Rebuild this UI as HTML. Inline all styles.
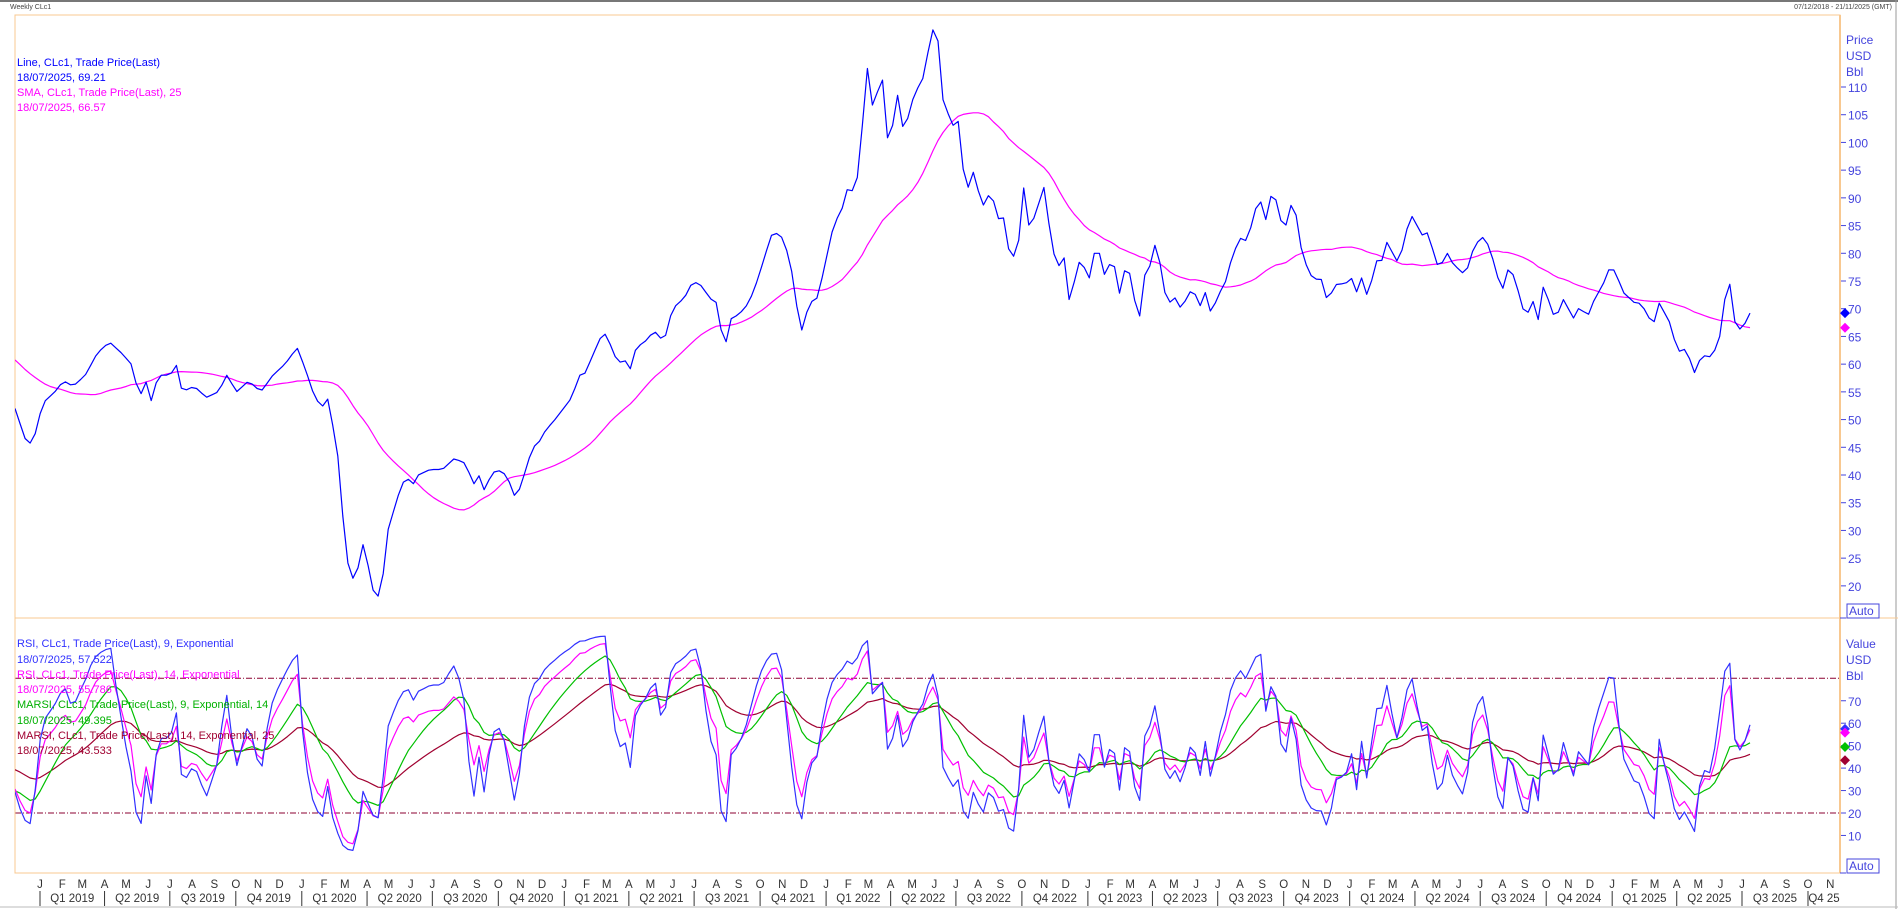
<!DOCTYPE html>
<html><head><meta charset="utf-8"><style>
html,body{margin:0;padding:0;background:#fff;width:1898px;height:909px;overflow:hidden}
svg{display:block;font-family:"Liberation Sans",sans-serif}
</style></head><body>
<svg id="s" width="1898" height="909" xmlns="http://www.w3.org/2000/svg"></svg>
<script>
const S=document.getElementById('s');let h='';
const L=15,R=1840,T=15,MID=618,B=873;
h+=`<rect x="0" y="0" width="1898" height="909" fill="#fff"/>`;
h+=`<line x1="0" y1="1" x2="1898" y2="1" stroke="#777" stroke-width="2"/>`;
h+=`<line x1="1896" y1="0" x2="1896" y2="909" stroke="#999"/>`;
h+=`<line x1="0" y1="907" x2="1898" y2="907" stroke="#bbb"/>`;
h+=`<text x="10" y="9" font-size="7" fill="#444">Weekly CLc1</text>`;
h+=`<text x="1892" y="9" font-size="7" fill="#444" text-anchor="end">07/12/2018 - 21/11/2025 (GMT)</text>`;
const d0=Date.UTC(2019,0,1),ppd=1702/2373;
function xd(y,m,d){return 40+(Date.UTC(y,m,d||1)-d0)/864e5*ppd;}
const py=p=>281-(p-75)*5.543, ry=v=>813-(v-20)*2.245;
let g='';
const ML='JFMAMJJASOND';
for(let y=2019;y<=2025;y++)for(let m=0;m<12;m++){const x=xd(y,m);if(x>R)continue;
g+=`<line x1="${x}" y1="${T}" x2="${x}" y2="${B}" stroke="#c4c4c4" stroke-dasharray="4,3"/>`;
h+=`<text x="${x}" y="888" font-size="11.5" fill="#333" text-anchor="middle">${ML[m]}</text>`;
if(m%3==0){h+=`<line x1="${x}" y1="891" x2="${x}" y2="906" stroke="#333"/>`;
const q=m/3+1;const lab=(y==2025&&q==4)?'Q4 25':'Q'+q+' '+y;
const nx=(y==2025&&q==4)?R:xd(q==4?y+1:y,(m+3)%12);
h+=`<text x="${(x+nx)/2}" y="902" font-size="11.5" fill="#333" text-anchor="middle">${lab}</text>`;}}
for(let p=20;p<=120;p+=5){g+=`<line x1="${L}" y1="${py(p)}" x2="${R}" y2="${py(p)}" stroke="#c4c4c4" stroke-dasharray="4,3"/>`;
if(p<=110)h+=`<line x1="${R}" y1="${py(p)}" x2="${R+6}" y2="${py(p)}" stroke="#4444dd"/><text x="${R+8}" y="${py(p)+5}" font-size="12" fill="#4444dd">${p}</text>`;}
for(let v=0;v<=100;v+=10){const y=ry(v);if(y<MID||y>B)continue;g+=`<line x1="${L}" y1="${y}" x2="${R}" y2="${y}" stroke="#c4c4c4" stroke-dasharray="4,3"/>`;
if(v>=10&&v<=70)h+=`<line x1="${R}" y1="${y}" x2="${R+6}" y2="${y}" stroke="#4444dd"/><text x="${R+8}" y="${y+5}" font-size="12" fill="#4444dd">${v}</text>`;}
h=g+h;
[20,80].forEach(v=>{h+=`<line x1="${L}" y1="${ry(v)}" x2="${R}" y2="${ry(v)}" stroke="#8b0030" stroke-dasharray="6,2,1,2"/>`;});
h+=`<rect x="${L}" y="${T}" width="${R-L}" height="${B-T}" fill="none" stroke="#f8c890"/><line x1="${L}" y1="${MID}" x2="1898" y2="${MID}" stroke="#f8c890"/>`;
h+=`<line x1="${R}" y1="${T}" x2="${R}" y2="${B}" stroke="#f8c890" stroke-width="2"/>`;
['Price','USD','Bbl'].forEach((t,i)=>h+=`<text x="${R+6}" y="${44+i*16}" font-size="12" fill="#4444dd">${t}</text>`);
['Value','USD','Bbl'].forEach((t,i)=>h+=`<text x="${R+6}" y="${648+i*16}" font-size="12" fill="#4444dd">${t}</text>`);
[[604,611],[859,866]].forEach(a=>{h+=`<rect x="${R+7}" y="${a[0]}" width="32" height="14" fill="none" stroke="#4444dd"/><text x="${R+9}" y="${a[1]+4}" font-size="12" fill="#4444dd">Auto</text><line x1="${R}" y1="${a[0]+14}" x2="${R+6}" y2="${a[0]+14}" stroke="#4444dd"/>`;});
const D=[12,52,22,45.5,27,46,35,53,45,55,52,57,60,56,70,58,80,62,90,64,100,62,108,60,115,54,120,57,125,53,130,58,140,58,146,60,150,55,160,56,170,54,180,55,187,58,195,55,205,57,215,55,225,58,235,60,245,63,252,59,258,55,265,52,270,54,278,45,283,32,288,22,293,21,300,28,305,22,310,17,315,20,320,30,328,36,335,40,340,38,345,40,355,41,365,41,375,43,385,42,390,38,395,40,400,37,405,40,410,41,418,40,425,36,430,38,435,42,440,45,445,46,450,48,458,50,465,52,472,54,478,58,482,58,490,62,498,66,505,63,510,60,515,61,520,59,525,63,532,64,540,66,548,64,555,70,565,72,572,75,580,74,585,72,592,71,598,62,602,68,610,69,618,71,625,75,632,80,638,84,645,83,652,79,658,70,662,66,668,71,675,72,682,79,688,85,695,88,700,92,705,91,710,96,715,115,718,110,722,104,727,115,733,100,738,104,742,110,746,101,752,107,758,110,763,112,768,119,773,122,778,108,783,105,787,103,792,104,797,90,803,95,808,91,813,88,818,92,823,86,828,87,834,79,840,80,845,92,850,84,856,88,862,92,868,82,873,77,878,80,883,71,888,76,893,80,898,74,903,80,908,80,913,75,918,80,925,72,930,79,935,74,940,67,945,76,950,78,955,83,960,74,965,71,970,72,975,70,980,72,985,74,990,70,995,73,1000,69,1005,72,1012,75,1018,80,1025,83,1030,82,1035,87,1040,90,1045,86,1050,91,1055,89,1060,83,1065,89,1070,87,1075,80,1080,77,1085,75,1090,76,1095,72,1100,73,1105,75,1110,74,1115,76,1120,73,1125,76,1130,71,1135,79,1140,78,1145,82,1150,80,1155,78,1160,83,1165,87,1170,85,1175,83,1180,84,1185,78,1190,78,1195,80,1200,78,1205,77,1210,76,1215,80,1220,82,1225,83,1230,81,1235,77,1240,73,1245,77,1250,76,1255,72,1260,68,1265,72,1270,68,1275,75,1280,70,1285,68,1290,72,1295,70,1300,68,1305,71,1310,68,1315,71,1320,73,1325,75,1330,78,1335,76,1340,73,1345,72,1350,71,1355,71,1360,69,1365,67,1370,71,1375,69,1380,67,1385,62,1390,63,1395,61,1400,58,1405,62,1410,61,1415,62,1420,65,1425,73,1428,75,1432,68,1435,66,1440,67,1445,69.21];
const P=[];for(let i=0;i<D.length;i+=2)P.push([15+(D[i]-12)*(1750-15)/(1445-12),D[i+1]]);
const N=345,W=[];for(let k=0;k<N;k++){const x=15+k*(1750-15)/(N-1);let j=0;while(j<P.length-2&&P[j+1][0]<x)j++;const a=P[j],b=P[j+1];const t=Math.min(1,Math.max(0,(x-a[0])/(b[0]-a[0])));W.push([x,a[1]+(b[1]-a[1])*t]);}
const pad=[];for(let i=0;i<30;i++)pad.push(72-i*0.62+2.5*Math.sin(i*1.3));
const all=pad.concat(W.map(w=>w[1]));
const sma=W.map((w,k)=>{let s=0;for(let i=0;i<25;i++)s+=all[k+30-i];return s/25;});
function pl(pts,c,w){return `<polyline fill="none" stroke="${c}" stroke-width="${w||1.2}" stroke-linejoin="round" points="${pts.map(p=>p[0].toFixed(1)+','+p[1].toFixed(1)).join(' ')}"/>`;}
h+=`<g clip-path="url(#c1)">`+pl(W.map((w,k)=>[w[0],py(sma[k])]),'#ff00ff')+pl(W.map(w=>[w[0],py(w[1])]),'#0000ff')+`</g>`;
function rsi(n){const a=2/(n+1);let g=0.6,l=0.6;const out=[];for(let i=1;i<all.length;i++){const d=all[i]-all[i-1];g=g*(1-a)+a*Math.max(d,0);l=l*(1-a)+a*Math.max(-d,0);out.push(100*g/(g+l));}return out.slice(29);}
function ema(arr,n,e0){const a=2/(n+1);let e=e0;return arr.map(v=>e=e*(1-a)+a*v);}
const r9=rsi(9),r14=rsi(14),m9=ema(r9,14,30),m14=ema(r14,25,40);
const sc=arr=>W.map((w,k)=>[w[0],ry(arr[k])]);
h+=`<g clip-path="url(#c2)">`+pl(sc(m14),'#a00030')+pl(sc(m9),'#00c000')+pl(sc(r14),'#ff00ff')+pl(sc(r9),'#3030ff')+`</g>`;
h=`<defs><clipPath id="c1"><rect x="${L}" y="${T}" width="${R-L}" height="${MID-T}"/></clipPath><clipPath id="c2"><rect x="${L}" y="${MID}" width="${R-L}" height="${B-MID}"/></clipPath></defs>`+h;
function dia(y,c){return `<polygon points="${R+5},${y-5} ${R+10},${y} ${R+5},${y+5} ${R},${y}" fill="${c}"/>`;}
h+=dia(py(69.21),'#0000ff')+dia(py(66.57),'#ff00ff')+dia(ry(57.5),'#3030ff')+dia(ry(55.8),'#ff00ff')+dia(ry(49.4),'#00c000')+dia(ry(43.5),'#a00030');
const leg=[[66,'Line, CLc1, Trade Price(Last)','#0000ff'],[81,'18/07/2025, 69.21','#0000ff'],[96,'SMA, CLc1, Trade Price(Last),  25','#ff00ff'],[111,'18/07/2025, 66.57','#ff00ff'],
[647,'RSI, CLc1, Trade Price(Last),  9, Exponential','#3030ff'],[663,'18/07/2025, 57.522','#3030ff'],[678,'RSI, CLc1, Trade Price(Last),  14, Exponential','#ff00ff'],[693,'18/07/2025, 55.786','#ff00ff'],
[708,'MARSI, CLc1, Trade Price(Last),  9, Exponential, 14','#00b000'],[724,'18/07/2025, 49.395','#00b000'],[739,'MARSI, CLc1, Trade Price(Last),  14, Exponential, 25','#a00030'],[754,'18/07/2025, 43.533','#a00030']];
leg.forEach(a=>h+=`<text x="17" y="${a[0]}" font-size="11" fill="${a[2]}">${a[1]}</text>`);
S.innerHTML=h;
</script>
</body></html>
